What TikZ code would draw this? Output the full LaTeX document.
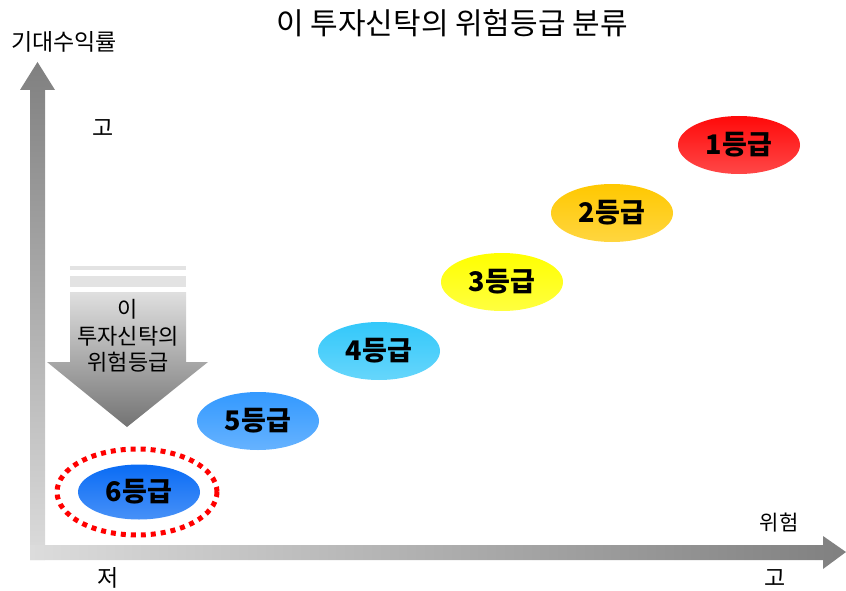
\documentclass[tikz,border=0pt]{standalone}
\usepackage{fontspec}
\setmainfont{Noto Sans CJK KR}
\usetikzlibrary{shapes.geometric}
\definecolor{grade1}{HTML}{FF0A0A}
\definecolor{grade2}{HTML}{FFC800}
\definecolor{grade3}{HTML}{FFFF00}
\definecolor{grade4}{HTML}{33C8FA}
\definecolor{grade5}{HTML}{3399FF}
\definecolor{grade6}{HTML}{0A6CF5}
\definecolor{axisgray}{HTML}{808080}
\definecolor{lightgray}{HTML}{DCDCDC}
\begin{document}
\begin{tikzpicture}[x=1pt,y=-1pt,
  grade/.style={ellipse,minimum width=122pt,minimum height=58pt,inner sep=0pt,
    top color=#1,bottom color=#1!75!white,font=\fontsize{27}{29}\selectfont\bfseries},
  lbl/.style={font=\fontsize{23}{25}\selectfont}]
\useasboundingbox (0,0) rectangle (846,591);
\shade[top color=axisgray,bottom color=lightgray] (30,560) -- (30,90) -- (20,90) -- (37.5,62) -- (55,90) -- (45,90) -- (45,560) -- cycle;
\shade[left color=lightgray,right color=axisgray] (30,545) -- (823,545) -- (823,536) -- (846,552) -- (823,569) -- (823,560) -- (30,560) -- cycle;
\fill[lightgray!80!white] (70,266) rectangle (186,270);
\fill[lightgray!80!white] (70,276) rectangle (186,287);
\shade[top color=lightgray!90!white,bottom color=axisgray!90!black] (70,292) -- (186,292) -- (186,362) -- (208,362) -- (127,427) -- (47,362) -- (70,362) -- cycle;
\node[align=center,font=\fontsize{22}{26.5}\selectfont] (mine) at (128,336) {이\\투자신탁의\\위험등급};
\draw[red,line width=5pt,dash pattern=on 5pt off 5pt] (137,492) ellipse [x radius=80,y radius=43];
\node[grade=grade1] (g1) at (739,145) {1등급};
\node[grade=grade2] (g2) at (612,213) {2등급};
\node[grade=grade3] (g3) at (502,282) {3등급};
\node[grade=grade4] (g4) at (379,351) {4등급};
\node[grade=grade5] (g5) at (258,421) {5등급};
\node[grade=grade6,minimum height=55pt] (g6) at (139,492) {6등급};
\node[font=\fontsize{30}{32}\selectfont] (title) at (452,23) {이 투자신탁의 위험등급 분류};
\node[lbl] (ylab) at (64,42) {기대수익률};
\node[lbl] (yhigh) at (103,128) {고};
\node[lbl] (xlow) at (108,578) {저};
\node[lbl] (xhigh) at (775,578) {고};
\node[font=\fontsize{21}{23}\selectfont] (xlab) at (779,523) {위험};
\end{tikzpicture}
\end{document}
